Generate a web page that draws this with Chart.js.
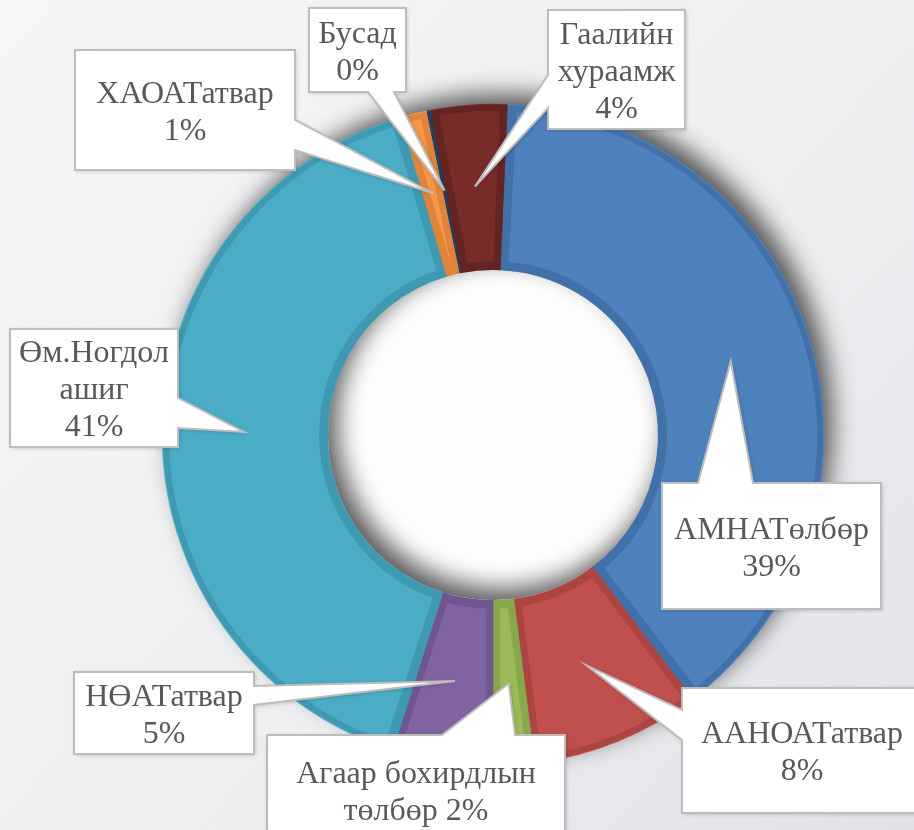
<!DOCTYPE html>
<html>
<head>
<meta charset="utf-8">
<script src="https://cdn.jsdelivr.net/npm/chart.js@4"></script>
<style>
  html, body { margin: 0; padding: 0; background: #eeeff1; }
  #wrap { width: 914px; height: 830px; position: relative; }
</style>
</head>
<body>
<div id="wrap"><canvas id="chart"></canvas></div>
<script>
// data, clockwise from the top
const categories = ['АМНАТөлбөр', 'ААНОАТатвар', 'Агаар бохирдлын төлбөр', 'НӨАТатвар',
  'Өм.Ногдол ашиг', 'ХАОАТатвар', 'Бусад', 'Гаалийн хураамж'];
const shares = [39.0, 8.3, 2.0, 4.9, 40.6, 1.3, 0.2, 3.7];
// how each label is broken into lines (percent goes on its own line unless inline)
const labelLines = [['АМНАТөлбөр'], ['ААНОАТатвар'], ['Агаар бохирдлын', 'төлбөр'], ['НӨАТатвар'],
  ['Өм.Ногдол', 'ашиг'], ['ХАОАТатвар'], ['Бусад'], ['Гаалийн', 'хураамж']];
const pctInline = [false, false, true, false, false, false, false, false];

const fills = ['#4F81BD', '#C0504D', '#9BBB59', '#8064A2', '#4BACC6', '#F79646', '#2C4D75', '#772C2A'];
const edges = ['#4271AA', '#AC4542', '#88A84C', '#70568F', '#3E99B1', '#DE843B', '#233E5E', '#652321'];

// callout boxes, offsets from the doughnut centre; side/a/b = where the pointer leaves the box
const callouts = [
  { x: 169, y: 48, w: 219, h: 126, side: 'top', a: 205, b: 260 },
  { x: 189, y: 253, w: 240, h: 125, side: 'left', a: 275, b: 305 },
  { x: -226, y: 300, w: 298, h: 110, side: 'top', a: -51, b: 22 },
  { x: -419, y: 237, w: 180, h: 82, side: 'right', a: 251, b: 270 },
  { x: -483, y: -106, w: 168, h: 118, side: 'right', a: -37, b: -7 },
  { x: -418, y: -385, w: 220, h: 120, side: 'right', a: -315, b: -285 },
  { x: -184, y: -427, w: 97, h: 84, side: 'bottom', a: -125, b: -99 },
  { x: 55, y: -425, w: 137, h: 119, side: 'left', a: -360, b: -327 }
];

function textFor(i) {
  const pct = Math.round(shares[i]) + '%';
  const lines = labelLines[i].slice();
  if (pctInline[i]) lines[lines.length - 1] += ' ' + pct;
  else lines.push(pct);
  return lines;
}

const backdrop = {
  id: 'backdrop',
  beforeDraw(chart) {
    const ctx = chart.ctx;
    const g = ctx.createLinearGradient(0, 0, chart.width, chart.height);
    g.addColorStop(0, '#f6f6f7');
    g.addColorStop(0.55, '#eeeff1');
    g.addColorStop(1, '#e1e2e5');
    ctx.save();
    ctx.fillStyle = g;
    ctx.fillRect(0, 0, chart.width, chart.height);
    ctx.restore();
  },
  beforeDatasetsDraw(chart) {
    const arc = chart.getDatasetMeta(0).data[0];
    if (!arc) return;
    const { x, y, outerRadius, innerRadius } = arc.getProps(['x', 'y', 'outerRadius', 'innerRadius'], true);
    const ctx = chart.ctx;
    ctx.save();
    // white hole
    ctx.fillStyle = '#fdfdfd';
    ctx.beginPath();
    ctx.arc(x, y, innerRadius + 2, 0, Math.PI * 2);
    ctx.fill();
    // ring shadow
    ctx.shadowColor = 'rgba(0,0,0,0.65)';
    ctx.shadowBlur = 24;
    ctx.shadowOffsetX = 9;
    ctx.shadowOffsetY = -11;
    ctx.fillStyle = '#cfd0d3';
    ctx.beginPath();
    ctx.arc(x, y, outerRadius, 0, Math.PI * 2);
    ctx.arc(x, y, innerRadius, 0, Math.PI * 2, true);
    ctx.fill();
    ctx.restore();
  }
};

function calloutPath(ctx, bx, by, w, h, side, a, b, tx, ty) {
  ctx.beginPath();
  ctx.moveTo(bx, by);
  if (side === 'top') { ctx.lineTo(a, by); ctx.lineTo(tx, ty); ctx.lineTo(b, by); }
  ctx.lineTo(bx + w, by);
  if (side === 'right') { ctx.lineTo(bx + w, a); ctx.lineTo(tx, ty); ctx.lineTo(bx + w, b); }
  ctx.lineTo(bx + w, by + h);
  if (side === 'bottom') { ctx.lineTo(b, by + h); ctx.lineTo(tx, ty); ctx.lineTo(a, by + h); }
  ctx.lineTo(bx, by + h);
  if (side === 'left') { ctx.lineTo(bx, b); ctx.lineTo(tx, ty); ctx.lineTo(bx, a); }
  ctx.closePath();
}

const calloutLabels = {
  id: 'calloutLabels',
  afterDatasetsDraw(chart) {
    const meta = chart.getDatasetMeta(0);
    const ctx = chart.ctx;
    const cx = meta.data[0].x, cy = meta.data[0].y;
    meta.data.forEach((arc, i) => {
      const c = callouts[i];
      const tip = arc.tooltipPosition(true);
      const bx = cx + c.x, by = cy + c.y;
      const horiz = c.side === 'top' || c.side === 'bottom';
      const a = (horiz ? cx : cy) + c.a, b = (horiz ? cx : cy) + c.b;
      ctx.save();
      ctx.shadowColor = 'rgba(0,0,0,0.22)';
      ctx.shadowBlur = 4;
      ctx.shadowOffsetX = 1;
      ctx.shadowOffsetY = 1;
      calloutPath(ctx, bx, by, c.w, c.h, c.side, a, b, tip.x, tip.y);
      ctx.fillStyle = '#ffffff';
      ctx.fill();
      ctx.shadowColor = 'transparent';
      ctx.strokeStyle = '#bdbdbd';
      ctx.lineWidth = 2;
      ctx.lineJoin = 'miter';
      ctx.stroke();
      const lines = textFor(i);
      ctx.fillStyle = '#595959';
      ctx.font = '32px "Liberation Serif", "Times New Roman", serif';
      ctx.textAlign = 'center';
      ctx.textBaseline = 'middle';
      const lh = 37;
      const midY = by + c.h / 2 + 3 - (lines.length - 1) * lh / 2;
      lines.forEach((t, k) => ctx.fillText(t, bx + c.w / 2, midY + k * lh));
      ctx.restore();
    });
  }
};

new Chart(document.getElementById('chart'), {
  type: 'doughnut',
  data: {
    labels: categories,
    datasets: [{
      data: shares,
      backgroundColor: fills,
      borderColor: edges,
      borderWidth: 7,
      borderAlign: 'inner',
      spacing: 3,
      hoverOffset: 0
    }]
  },
  options: {
    responsive: true,
    maintainAspectRatio: false,
    animation: false,
    rotation: 2.5,
    radius: 330,
    cutout: '50%',
    layout: { padding: { left: 72, top: 40, right: 0, bottom: 0 } },
    plugins: {
      legend: { display: false },
      tooltip: { enabled: false }
    }
  },
  plugins: [backdrop, calloutLabels]
});
</script>
</body>
</html>
